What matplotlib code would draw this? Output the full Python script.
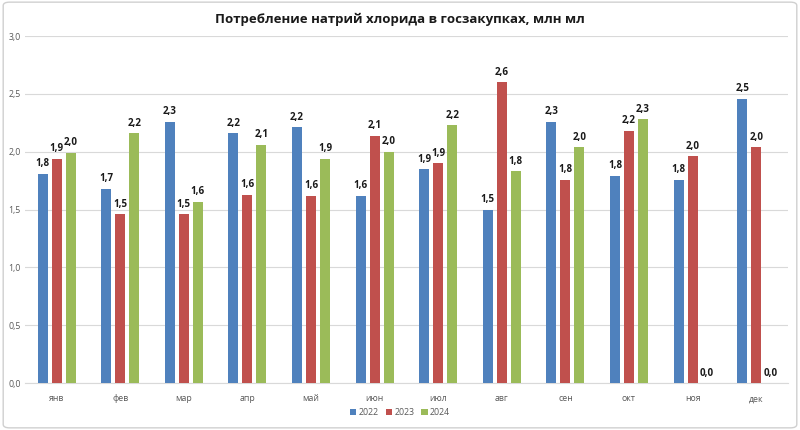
import matplotlib
matplotlib.use("Agg")
import matplotlib.pyplot as plt
import matplotlib.patches as patches
import numpy as np

plt.rcParams["font.family"] = ["Open Sans", "DejaVu Sans"]

months = ["янв", "фев", "мар", "апр", "май", "июн",
          "июл", "авг", "сен", "окт", "ноя", "дек"]
years = ["2022", "2023", "2024"]
v2022 = [1.81, 1.68, 2.26, 2.16, 2.21, 1.62, 1.85, 1.50, 2.26, 1.79, 1.76, 2.46]
v2023 = [1.94, 1.46, 1.46, 1.63, 1.62, 2.14, 1.90, 2.60, 1.76, 2.18, 1.96, 2.04]
v2024 = [1.99, 2.16, 1.57, 2.06, 1.94, 2.00, 2.23, 1.83, 2.04, 2.28, 0.0, 0.0]
colors = ["#4F81BD", "#C0504D", "#9BBB59"]

fig = plt.figure(figsize=(8, 4.3), dpi=100)
ax = fig.add_axes([0.031, 0.109, 0.954, 0.807])

x = np.arange(len(months))
width = 0.16
step = 0.22

for i, (vals, yr, c) in enumerate(zip([v2022, v2023, v2024], years, colors)):
    xs = x + (i - 1) * step
    ax.bar(xs, vals, width=width, color=c, label=yr, zorder=3)
    for xx, v in zip(xs, vals):
        ax.text(xx, v + 0.04, f"{v:.1f}".replace(".", ","), ha="center", va="bottom",
                fontsize=7, fontweight="bold", color="#1a1a1a", zorder=4)

ax.set_xlim(-0.5, len(months) - 0.5)
ax.set_ylim(0, 3.0)
ax.set_yticks(np.arange(0, 3.01, 0.5))
ax.set_yticklabels([f"{t:.1f}".replace(".", ",") for t in np.arange(0, 3.01, 0.5)])
ax.set_xticks(x)
ax.set_xticklabels(months)
ax.tick_params(axis="both", length=0, labelsize=6.3, colors="#595959")
ax.tick_params(axis="x", pad=8)
ax.tick_params(axis="y", pad=3)
ax.grid(axis="y", color="#D9D9D9", linewidth=0.8, zorder=0)
for s in ["top", "right", "left"]:
    ax.spines[s].set_visible(False)
ax.spines["bottom"].set_color("#D9D9D9")

fig.text(0.5, 0.955, "Потребление натрий хлорида в госзакупках, млн мл",
         ha="center", va="center", fontsize=9.5, fontweight="bold", color="#1a1a1a")

fig.legend(loc="center", bbox_to_anchor=(0.5, 0.04), ncol=3, frameon=False,
           fontsize=6.3, handlelength=0.7, handleheight=0.7, handletextpad=0.3,
           columnspacing=0.8, labelcolor="#595959")

border = patches.FancyBboxPatch((0.004, 0.005), 0.992, 0.99,
                                boxstyle="round,pad=0,rounding_size=0.008",
                                transform=fig.transFigure, fill=False,
                                edgecolor="#D0D0D0", linewidth=1.0)
fig.patches.append(border)

fig.savefig("out.png", dpi=100)
